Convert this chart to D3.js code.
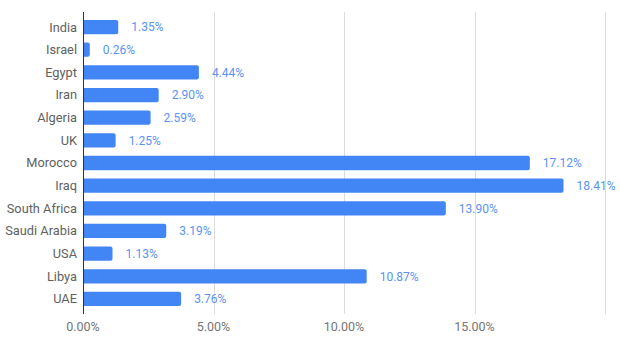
<!DOCTYPE html>
<html>
<head>
<meta charset="utf-8">
<script src="https://cdn.jsdelivr.net/npm/d3@7"></script>
<style>
  html, body { margin: 0; padding: 0; background: #fff; }
  svg { display: block; font-family: Roboto, "Noto Sans", Arial, sans-serif; }
</style>
</head>
<body>
<svg id="chart" width="620" height="348"></svg>
<script>
// Share by country
const countries = ["India", "Israel", "Egypt", "Iran", "Algeria", "UK", "Morocco",
                   "Iraq", "South Africa", "Saudi Arabia", "USA", "Libya", "UAE"];
const shares = [1.35, 0.26, 4.44, 2.90, 2.59, 1.25, 17.12,
                18.41, 13.90, 3.19, 1.13, 10.87, 3.76];
const tickValues = [0, 5, 10, 15, 20];
const tickLabels = ["0.00%", "5.00%", "10.00%", "15.00%", ""];

const svg = d3.select("#chart");
const plot = { left: 83, right: 605, top: 15.7, bottom: 310.3 };

const x = d3.scaleLinear().domain([0, 20]).range([plot.left, plot.right]);
const y = d3.scaleBand().domain(countries).range([plot.top, plot.bottom])
  .paddingInner(0.37).paddingOuter(0.185);

// vertical gridlines
svg.append("g").selectAll("line").data(tickValues.slice(1)).join("line")
  .attr("x1", d => Math.round(x(d)) + 0.5).attr("x2", d => Math.round(x(d)) + 0.5)
  .attr("y1", 12).attr("y2", 314)
  .attr("stroke", "#dcdcdc").attr("stroke-width", 1);

// x tick labels
svg.append("g").selectAll("text").data(tickValues).join("text")
  .attr("x", d => x(d)).attr("y", 331)
  .attr("text-anchor", "middle")
  .attr("font-size", 12.5).attr("fill", "#757575")
  .text((d, i) => tickLabels[i]);

// bars with rounded right ends
const r = 2;
svg.append("g").selectAll("path").data(countries).join("path")
  .attr("fill", "#4285f4")
  .attr("d", (c, i) => {
    const x0 = x(0), x1 = x(shares[i]);
    const y0 = y(c), h = y.bandwidth();
    const rr = Math.min(r, (x1 - x0) / 2);
    return `M${x0},${y0}H${x1 - rr}Q${x1},${y0} ${x1},${y0 + rr}` +
           `V${y0 + h - rr}Q${x1},${y0 + h} ${x1 - rr},${y0 + h}H${x0}Z`;
  });

// value labels
svg.append("g").selectAll("text").data(countries).join("text")
  .attr("x", (c, i) => x(shares[i]) + 13)
  .attr("y", c => y(c) + y.bandwidth() / 2)
  .attr("dy", "0.35em")
  .attr("font-size", 12).attr("fill", "#5a93f4")
  .text((c, i) => shares[i].toFixed(2) + "%");

// category labels
svg.append("g").selectAll("text").data(countries).join("text")
  .attr("x", 77)
  .attr("y", c => y(c) + y.bandwidth() / 2)
  .attr("dy", "0.35em")
  .attr("text-anchor", "end")
  .attr("font-size", 12.8).attr("fill", "#616161")
  .text(c => c);

// zero baseline
svg.append("line")
  .attr("x1", x(0) + 0.5).attr("x2", x(0) + 0.5)
  .attr("y1", 12).attr("y2", 314)
  .attr("stroke", "#333").attr("stroke-width", 1);
</script>
</body>
</html>
